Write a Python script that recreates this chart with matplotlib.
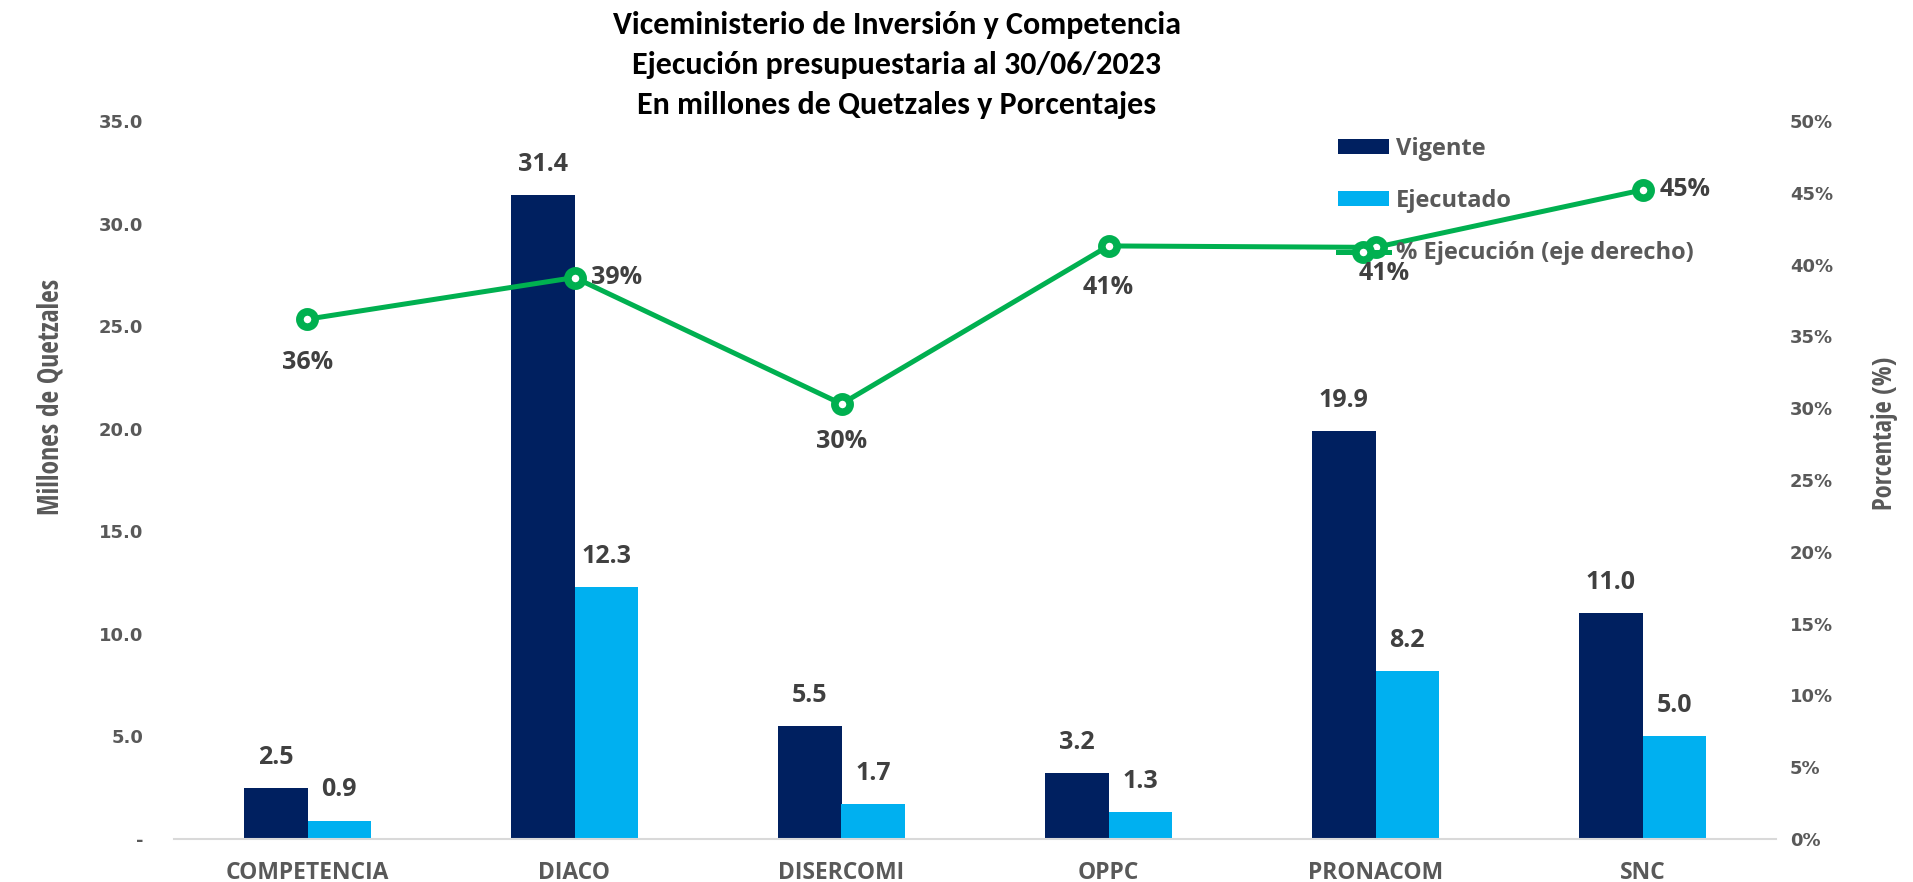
import matplotlib
matplotlib.use("Agg")
import matplotlib.pyplot as plt
from matplotlib.patches import Patch
from matplotlib.lines import Line2D
import numpy as np

categories = ["COMPETENCIA", "DIACO", "DISERCOMI", "OPPC", "PRONACOM", "SNC"]
vigente = [2.5, 31.4, 5.5, 3.2, 19.9, 11.0]
ejecutado = [0.9, 12.3, 1.7, 1.3, 8.2, 5.0]
pct_ejecucion = [0.362, 0.391, 0.303, 0.413, 0.412, 0.452]
left_ticks = [0, 5, 10, 15, 20, 25, 30, 35]
left_tick_labels = ["-", "5.0", "10.0", "15.0", "20.0", "25.0", "30.0", "35.0"]
right_ticks = [0.0, 0.05, 0.10, 0.15, 0.20, 0.25, 0.30, 0.35, 0.40, 0.45, 0.50]
right_tick_labels = ["0%", "5%", "10%", "15%", "20%", "25%", "30%", "35%", "40%", "45%", "50%"]
title_lines = ["Viceministerio de Inversión y Competencia",
               "Ejecución presupuestaria al 30/06/2023",
               "En millones de Quetzales y Porcentajes"]

C_VIG = "#002060"
C_EJE = "#00B0F0"
C_LINE = "#00B050"
C_TXT = "#404040"
C_TICK = "#595959"

NARROW = ["Carlito", "DejaVu Sans"]
OPEN = ["Open Sans", "DejaVu Sans"]
OPENC = ["Open Sans Condensed", "DejaVu Sans"]

fig = plt.figure(figsize=(19.13, 8.82), dpi=100)
W, H = 1913, 882
ax = fig.add_axes([174 / W, 1 - 839 / H, (1776 - 174) / W, (839 - 121) / H])
ax2 = ax.twinx()

x = np.arange(len(categories))
bw = 0.238
b1 = ax.bar(x - bw / 2, vigente, bw, color=C_VIG, zorder=2)
b2 = ax.bar(x + bw / 2, ejecutado, bw, color=C_EJE, zorder=2)

ax.set_xlim(-0.5, len(categories) - 0.5)
ax.set_ylim(0, 35)
ax2.set_ylim(0, 0.5)

for bars, vals in ((b1, vigente), (b2, ejecutado)):
    for r, v in zip(bars, vals):
        ax.annotate(f"{v:.1f}", (r.get_x() + r.get_width() / 2, v),
                    xytext=(0, 13), textcoords="offset points",
                    ha="center", va="bottom", fontsize=18, fontweight="bold",
                    family=OPEN, color=C_TXT)

LW, MS, MEW = 3.6, 11, 5.5
ax2.plot(x, pct_ejecucion, color=C_LINE, lw=LW, marker="o", ms=MS,
         mfc="white", mec=C_LINE, mew=MEW, zorder=5)

# label placement (offsets in points) for the percentage labels
pct_offsets = [(0, -31), (12, 0), (0, -27), (0, -30), (6, -19), (12, 0)]
pct_ha = ["center", "left", "center", "center", "center", "left"]
for xi, v, off, ha in zip(x, pct_ejecucion, pct_offsets, pct_ha):
    ax2.annotate(f"{v * 100:.0f}%", (xi, v), xytext=off, textcoords="offset points",
                 ha=ha, va="center", fontsize=18, fontweight="bold",
                 family=OPEN, color=C_TXT, zorder=6)

ax.set_yticks(left_ticks)
ax.set_yticklabels(left_tick_labels)
ax2.set_yticks(right_ticks)
ax2.set_yticklabels(right_tick_labels)
ax.set_xticks(x)
ax.set_xticklabels(categories)

for lab in ax.get_yticklabels() + ax2.get_yticklabels():
    lab.set_fontsize(13)
    lab.set_fontweight("bold")
    lab.set_color(C_TICK)
    lab.set_family("DejaVu Sans")
for lab in ax.get_xticklabels():
    lab.set_fontsize(16.5)
    lab.set_fontweight("bold")
    lab.set_color(C_TICK)
    lab.set_family(OPEN)

ax.tick_params(axis="y", length=0, pad=22)
ax2.tick_params(axis="y", length=0, pad=10)
ax.tick_params(axis="x", length=0, pad=16)

for a in (ax, ax2):
    for s in ("top", "right", "left"):
        a.spines[s].set_visible(False)
ax2.spines["bottom"].set_visible(False)
ax.spines["bottom"].set_color("#D9D9D9")
ax.spines["bottom"].set_linewidth(1.5)

fig.text(42 * 1.22 / W, 1 - 325 * 1.22 / H, "Millones de Quetzales", rotation=90,
         ha="center", va="center", fontsize=19.8, fontweight="bold",
         family=OPENC, color=C_TICK)
fig.text(1545 * 1.22 / W, 1 - 355 * 1.22 / H, "Porcentaje (%)", rotation=90,
         ha="center", va="center", fontsize=19, fontweight="bold",
         family=OPENC, color=C_TICK)

for i, line in enumerate(title_lines):
    fig.text(897 / W, 1 - (25 + 40 * i) / H, line, ha="center", va="center",
             fontsize=23, fontweight="bold", family=NARROW, color="black")

handles = [Patch(facecolor=C_VIG), Patch(facecolor=C_EJE),
           Line2D([0], [0], color=C_LINE, lw=LW, marker="o", ms=MS,
                  mfc="white", mec=C_LINE, mew=MEW)]
labels = ["Vigente", "Ejecutado", "% Ejecución (eje derecho)"]
leg = ax2.legend(handles, labels, loc="upper left",
                 bbox_to_anchor=(1326 / W, 1 - 125 / H), bbox_transform=fig.transFigure,
                 frameon=False, prop={"family": OPEN, "size": 17, "weight": "bold"},
                 labelcolor=C_TICK, handlelength=2.16, handleheight=0.6,
                 handletextpad=0.3, labelspacing=1.2, borderpad=0)
ax.set_zorder(ax2.get_zorder() - 1)
ax2.patch.set_visible(False)

fig.savefig("out.png", dpi=100)
